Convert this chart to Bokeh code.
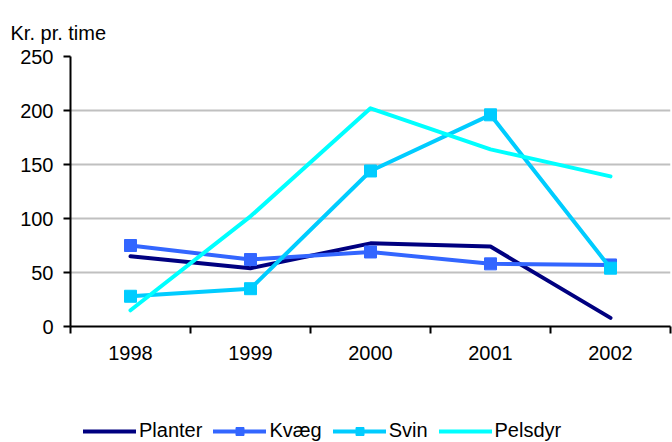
from bokeh.plotting import figure
from bokeh.layouts import column
from bokeh.models import FixedTicker, Legend, LegendItem
from bokeh.embed import file_html
from bokeh.resources import INLINE

years = ["1998", "1999", "2000", "2001", "2002"]
planter = [65, 54, 77, 74, 8]
kvaeg = [75, 62, 69, 58, 57]
svin = [28, 35, 144, 196, 54]
pelsdyr = [15, 102, 202, 164, 139]
y_ticks = [0, 50, 100, 150, 200, 250]

xs = [i + 0.5 for i in range(len(years))]
FONT = "Liberation Sans"
FS = "20px"

p = figure(width=672, height=380, output_backend="svg", toolbar_location=None,
           x_range=(0, len(years)), y_range=(0, 250),
           min_border_left=70, min_border_right=2, min_border_top=56, min_border_bottom=54)
p.outline_line_color = None
p.background_fill_color = "white"
p.border_fill_color = "white"

p.title.text = "Kr. pr. time"
p.title.align = "left"
p.title.offset = -60
p.title.standoff = 26
p.title.text_font = FONT
p.title.text_font_size = FS
p.title.text_font_style = "normal"
p.title.text_color = "black"

p.xgrid.visible = False
p.ygrid.grid_line_color = "#c0c0c0"
p.ygrid.grid_line_width = 2

p.xaxis.ticker = FixedTicker(ticks=xs, minor_ticks=list(range(len(years) + 1)))
p.xaxis.major_label_overrides = {x: y for x, y in zip(xs, years)}
p.xaxis.major_tick_line_color = None
p.xaxis.major_tick_out = 7
p.xaxis.minor_tick_out = 7
p.xaxis.minor_tick_in = 0
p.xaxis.minor_tick_line_color = "black"
p.xaxis.minor_tick_line_width = 2
p.xaxis.major_label_standoff = 12

p.yaxis.ticker = FixedTicker(ticks=y_ticks, minor_ticks=[])
p.yaxis.major_tick_out = 7
p.yaxis.major_tick_in = 0
p.yaxis.major_tick_line_width = 2
p.yaxis.major_label_standoff = 10

for ax in (p.xaxis, p.yaxis):
    ax.axis_line_width = 2
    ax.axis_line_color = "black"
    ax.major_label_text_font = FONT
    ax.major_label_text_font_size = FS
    ax.major_label_text_color = "black"

series = [("Planter", planter, "#000080", False),
          ("Kvæg", kvaeg, "#3366ff", True),
          ("Svin", svin, "#00ccff", True),
          ("Pelsdyr", pelsdyr, "#00ffff", False)]

# legend strip below the chart; its ranges keep the series out of view so only the legend shows
lg = figure(width=672, height=62, output_backend="svg", toolbar_location=None,
            x_axis_type=None, y_axis_type=None, x_range=(0, len(years)), y_range=(1000, 1001),
            min_border=0, min_border_left=70, min_border_right=2)
lg.outline_line_color = None
lg.xgrid.visible = False
lg.ygrid.visible = False

items = []
for name, vals, col, mk in series:
    p.line(xs, vals, line_color=col, line_width=4, line_cap="round", line_join="round")
    if mk:
        p.scatter(xs, vals, marker="square", size=12, fill_color=col, line_color=col)
    rs = [lg.line(xs, vals, line_color=col, line_width=4, line_cap="round")]
    if mk:
        rs.append(lg.scatter(xs, vals, marker="square", size=11, fill_color=col, line_color=col))
    items.append(LegendItem(label=name, renderers=rs))

legend = Legend(items=items, orientation="horizontal", location=(13, 0),
                glyph_width=53, glyph_height=20, label_standoff=3, spacing=11,
                padding=0, margin=0, border_line_color=None, background_fill_alpha=0,
                label_text_font=FONT, label_text_font_size=FS, label_text_color="black")
lg.add_layout(legend, "center")

layout = column(p, lg, spacing=0)
open("out.html", "w").write(file_html(layout, INLINE))
